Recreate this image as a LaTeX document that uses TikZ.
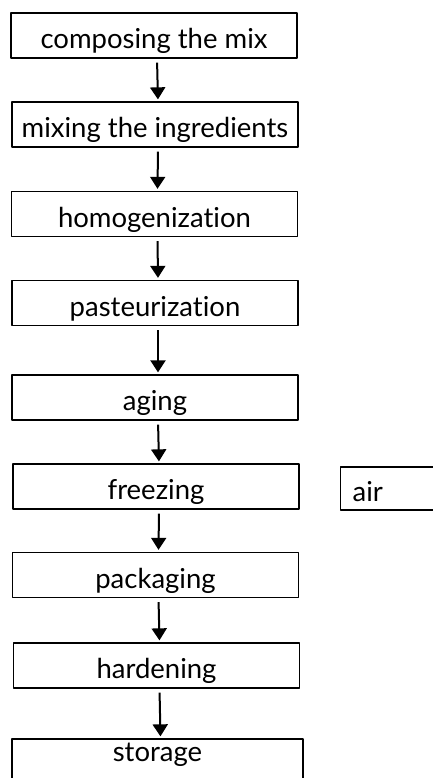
\documentclass[tikz,border=0pt]{standalone}
\usepackage{fontspec}
\setmainfont{Lato}[Ligatures=NoCommon]
\usepackage{tikz}
\usetikzlibrary{arrows.meta}

\begin{document}
\begin{tikzpicture}[x=1pt, y=-1pt, line join = round,
    stage/.style={draw, line width=1.3pt, minimum width=286pt, minimum height=45pt,
        inner sep=0pt, text height=32pt, text depth=6pt,
        font=\fontsize{27.5}{32}\selectfont},
    flow/.style={line width=2pt, shorten <=4pt, shorten >=2pt,
        -{Triangle[length=12pt,width=15pt]}}]
    \useasboundingbox (0,0) rectangle (433,778);
    \node[stage] (compose) at (154,35.5) {composing the mix};
    \node[stage] (ingr) at (155,124.5) {mixing the ingredients};
    \node[stage] (homog) at (154.5,214) {homogenization};
    \node[stage] (pasteur) at (155,303) {pasteurization};
    \node[stage] (aging) at (155,397.5) {aging};
    \node[stage] (freeze) at (156,486.5) {freezing};
    \node[stage] (pack) at (155.5,575) {packaging};
    \node[stage] (harden) at (156.5,665.5) {hardening};
    \node[stage, minimum width=291pt, text height=16pt, text depth=16pt] (store) at (157.5,761.5) {storage};
    \node[stage, minimum width=0pt, minimum height=43pt, anchor=west,
        text width=100pt, align=left] (air) at (340,488.5) {\hspace{12pt}air};

    % \draw[help lines] (0,0) grid[step=50] (433,778);
    \foreach \a/\b in {compose/ingr, ingr/homog, homog/pasteur, pasteur/aging,
        aging/freeze, freeze/pack, pack/harden, harden/store}
        \draw[flow] ([xshift=3pt]\a.south) -- ([xshift=3pt]\b.north);
\end{tikzpicture}
\end{document}
